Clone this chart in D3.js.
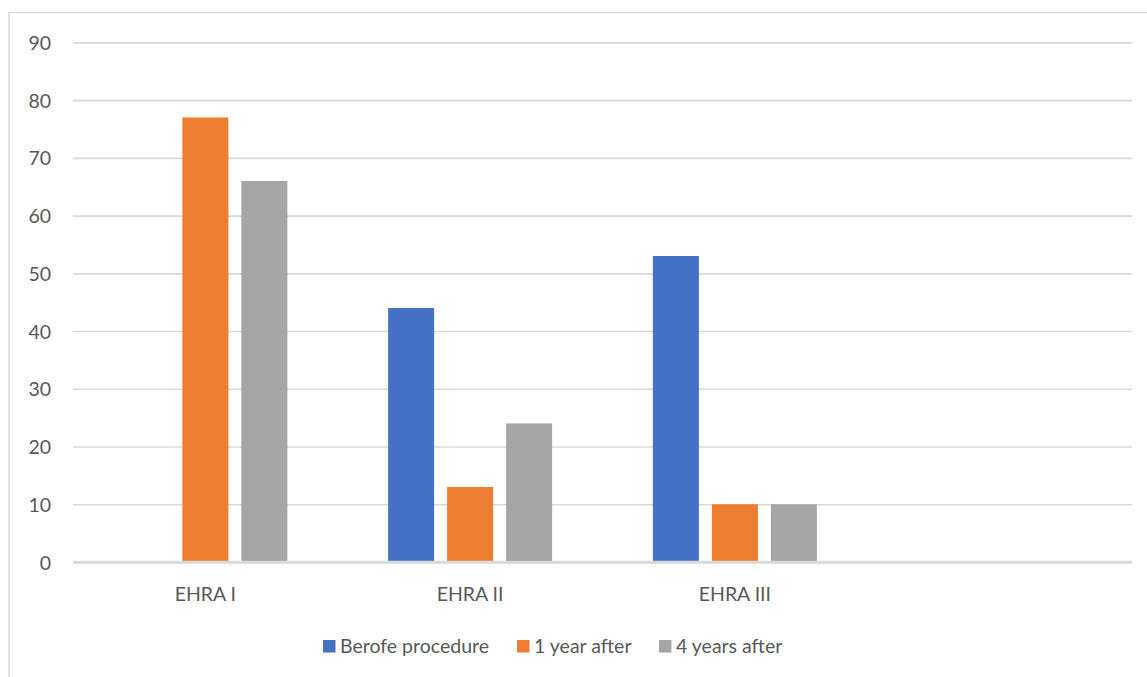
<!DOCTYPE html>
<html>
<head>
<meta charset="utf-8">
<script src="https://cdn.jsdelivr.net/npm/d3@7"></script>
<style>
  html, body { margin: 0; padding: 0; background: #fff; }
  svg { display: block; }
  svg text { font-family: "Lato", "Open Sans", sans-serif; }
</style>
</head>
<body>
<svg id="chart" width="1147" height="677"></svg>
<script>
// Categories (the fourth slot is left empty on purpose)
const categories = ["EHRA I", "EHRA II", "EHRA III", ""];
const seriesNames = ["Berofe procedure", "1 year after", "4 years after"];
const beforeProcedure = [0, 44, 53, null];
const oneYearAfter = [77, 13, 10, null];
const fourYearsAfter = [66, 24, 10, null];
const yTicks = [0, 10, 20, 30, 40, 50, 60, 70, 80, 90];
const colors = ["#4472C4", "#ED7D31", "#A5A5A5"];

const series = [beforeProcedure, oneYearAfter, fourYearsAfter];

const svg = d3.select("#chart");
const W = 1147, H = 677;
const plot = { left: 73, right: 1132, top: 42.4, bottom: 562 };
const FONT_SIZE = 19.5;
const TEXT_COLOR = "#595959";

// Outer chart frame (runs past the right and bottom edges)
svg.append("rect")
  .attr("x", 9).attr("y", 12.5)
  .attr("width", W + 20).attr("height", H + 20)
  .attr("fill", "#fff")
  .attr("stroke", "#d9d9d9").attr("stroke-width", 1.5);

const x = d3.scaleBand()
  .domain(d3.range(categories.length))
  .range([plot.left, plot.right])
  .paddingInner(0).paddingOuter(0);

const y = d3.scaleLinear()
  .domain([0, 90])
  .range([plot.bottom, plot.top]);

// Inner band for the three bars in each category
const groupWidth = 164;
const xs = d3.scaleBand()
  .domain(d3.range(series.length))
  .range([0, groupWidth])
  .paddingInner(13 / 59)
  .paddingOuter(0);

// Horizontal gridlines and value labels
const yAxis = d3.axisLeft(y).tickValues(yTicks).tickSize(-(plot.right - plot.left)).tickPadding(22);
const gy = svg.append("g")
  .attr("transform", `translate(${plot.left},0)`)
  .call(yAxis)
  .attr("font-family", null);
gy.select(".domain").remove();
gy.selectAll(".tick line")
  .attr("stroke", "#d9d9d9")
  .attr("stroke-width", d => d === 0 ? 2.5 : 1.6);
gy.selectAll(".tick text")
  .attr("fill", TEXT_COLOR)
  .attr("font-size", FONT_SIZE)
  .attr("dy", "0.36em");

// Bars
categories.forEach((cat, ci) => {
  const gx = x(ci) + (x.bandwidth() - groupWidth) / 2;
  series.forEach((vals, si) => {
    const v = vals[ci];
    if (v == null || v === 0) return;
    svg.append("rect")
      .attr("x", gx + xs(si))
      .attr("y", y(v))
      .attr("width", xs.bandwidth())
      .attr("height", y(0) - y(v))
      .attr("fill", colors[si]);
  });
});

// Redraw the baseline on top of bars
svg.append("line")
  .attr("x1", plot.left).attr("x2", plot.right)
  .attr("y1", y(0)).attr("y2", y(0))
  .attr("stroke", "#d9d9d9").attr("stroke-width", 2.5);

// Category labels
const xAxis = d3.axisBottom(x).tickFormat(i => categories[i]).tickSize(0);
const gxAxis = svg.append("g")
  .attr("transform", `translate(0,${plot.bottom})`)
  .call(xAxis)
  .attr("font-family", null);
gxAxis.select(".domain").remove();
gxAxis.selectAll(".tick text")
  .attr("fill", TEXT_COLOR)
  .attr("font-size", FONT_SIZE)
  .attr("y", 39)
  .attr("dy", 0);

// Legend
const legendX = [323, 517, 659];
const legend = svg.append("g");
seriesNames.forEach((name, i) => {
  legend.append("rect")
    .attr("x", legendX[i]).attr("y", 640)
    .attr("width", 12.5).attr("height", 12.5)
    .attr("fill", colors[i]);
  legend.append("text")
    .attr("x", legendX[i] + 17).attr("y", 653)
    .attr("fill", TEXT_COLOR)
    .attr("font-size", FONT_SIZE)
    .text(name);
});
</script>
</body>
</html>
